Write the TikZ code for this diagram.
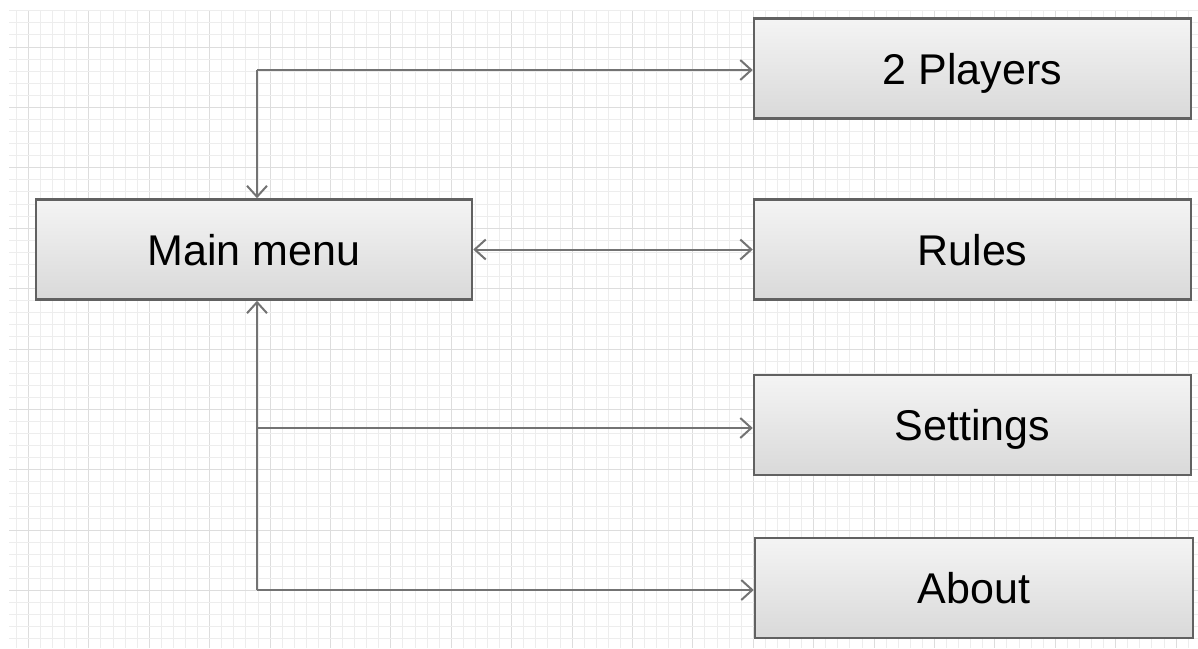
\documentclass[tikz,border=0pt]{standalone}
\usepackage{fontspec}
\setmainfont{Liberation Sans}
\usetikzlibrary{arrows.meta}
\definecolor{gridminor}{HTML}{EDEDED}
\definecolor{gridmajor}{HTML}{DDDDDD}
\definecolor{linecol}{HTML}{737373}
\definecolor{boxline}{HTML}{616161}
\definecolor{boxtop}{HTML}{F4F4F4}
\definecolor{boxbot}{HTML}{D9D9D9}
\tikzset{
  menubox/.style={rectangle, draw=boxline, line width=2.5pt, top color=boxtop, bottom color=boxbot,
    minimum width=436pt, minimum height=100pt, inner sep=0pt, font=\fontsize{43}{50}\selectfont,
    text height=31pt, text depth=0pt},
  conn/.style={draw=linecol, line width=2pt, -{Straight Barb[length=11pt,width=20pt,line width=2pt]}},
  conn2/.style={draw=linecol, line width=2pt, {Straight Barb[length=11pt,width=20pt,line width=2pt]}-{Straight Barb[length=11pt,width=20pt,line width=2pt]}}
}
\begin{document}
\begin{tikzpicture}[x=1pt,y=-1pt]
\useasboundingbox (0,0) rectangle (1198,648);
\fill[white] (0,0) rectangle (1198,648);
% grid
\begin{scope}
\clip (9,10) rectangle (1198,648);
\foreach \k in {-2,...,100} {
  \pgfmathsetmacro{\xx}{28.5+12.08*\k}
  \pgfmathtruncatemacro{\mm}{mod(\k+100,5)}
  \ifnum\mm=0
    \draw[gridmajor, line width=1pt] (\xx,0) -- (\xx,648);
  \else
    \draw[gridminor, line width=1pt] (\xx,0) -- (\xx,648);
  \fi
}
\foreach \k in {-4,...,52} {
  \pgfmathsetmacro{\yy}{47+12.08*\k}
  \pgfmathtruncatemacro{\mm}{mod(\k+100,5)}
  \ifnum\mm=0
    \draw[gridmajor, line width=1pt] (0,\yy) -- (1198,\yy);
  \else
    \draw[gridminor, line width=1pt] (0,\yy) -- (1198,\yy);
  \fi
}
\end{scope}
% nodes
\node[menubox] (main) at (254,249.5) {Main menu};
\node[menubox, minimum width=437pt] (p2) at (972.5,68.5) {2 Players};
\node[menubox, minimum width=437pt] (rules) at (972.5,249.5) {Rules};
\node[menubox, minimum width=437pt] (settings) at (972.5,425) {Settings};
\node[menubox, minimum width=438pt] (about) at (974,588) {About};
% junctions
\coordinate (tj) at (257,70);
\coordinate (sj) at (257,428);
\coordinate (bj) at (257,590);
% connectors
\draw[conn] (tj) -- (tj -| p2.west);
\draw[conn] (tj) -- (tj |- main.north);
\draw[conn2] (main.east) -- (rules.west);
\draw[conn] (bj) -- (bj |- main.south);
\draw[conn] (sj) -- (sj -| settings.west);
\draw[conn] (bj) -- (bj -| about.west);
\end{tikzpicture}
\end{document}
